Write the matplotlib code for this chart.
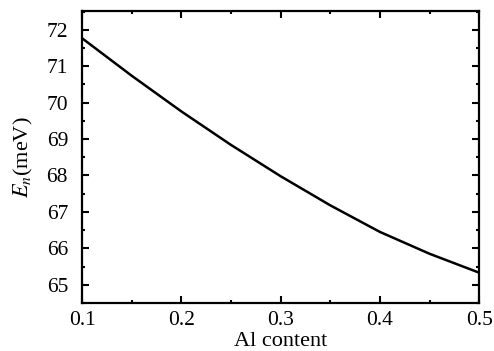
import matplotlib
matplotlib.use("Agg")
import matplotlib.pyplot as plt
from matplotlib.ticker import MultipleLocator

al_content = [0.10, 0.15, 0.20, 0.25, 0.30, 0.35, 0.40, 0.45, 0.50]
energy_mev = [71.77, 70.74, 69.76, 68.84, 67.98, 67.18, 66.45, 65.85, 65.33]

plt.rcParams['font.family'] = ['Liberation Serif', 'DejaVu Serif']
plt.rcParams['mathtext.fontset'] = 'stix'

fig = plt.figure(figsize=(4.94, 3.51), dpi=100)
ax = fig.add_axes([0.166, 0.137, 0.804, 0.832])
ax.plot(al_content, energy_mev, color='black', lw=1.8)
ax.set_xlim(0.1, 0.5)
ax.set_ylim(64.5, 72.52)
ax.xaxis.set_major_locator(MultipleLocator(0.1))
ax.xaxis.set_minor_locator(MultipleLocator(0.05))
ax.yaxis.set_major_locator(MultipleLocator(1))
ax.yaxis.set_minor_locator(MultipleLocator(0.5))
ax.tick_params(which='both', direction='in', top=True, right=True, labelsize=15.5, width=1.5)
ax.tick_params(which='major', length=5)
ax.tick_params(axis='y', which='major', pad=10)
ax.tick_params(axis='x', which='major', pad=6)
ax.tick_params(which='minor', length=2.5)
for s in ax.spines.values():
    s.set_linewidth(1.6)
ax.set_xlabel('Al content', fontsize=16, labelpad=1)
ax.set_ylabel(r'$E_n$(meV)', fontsize=16, labelpad=8)
fig.savefig('out.png', dpi=100)
